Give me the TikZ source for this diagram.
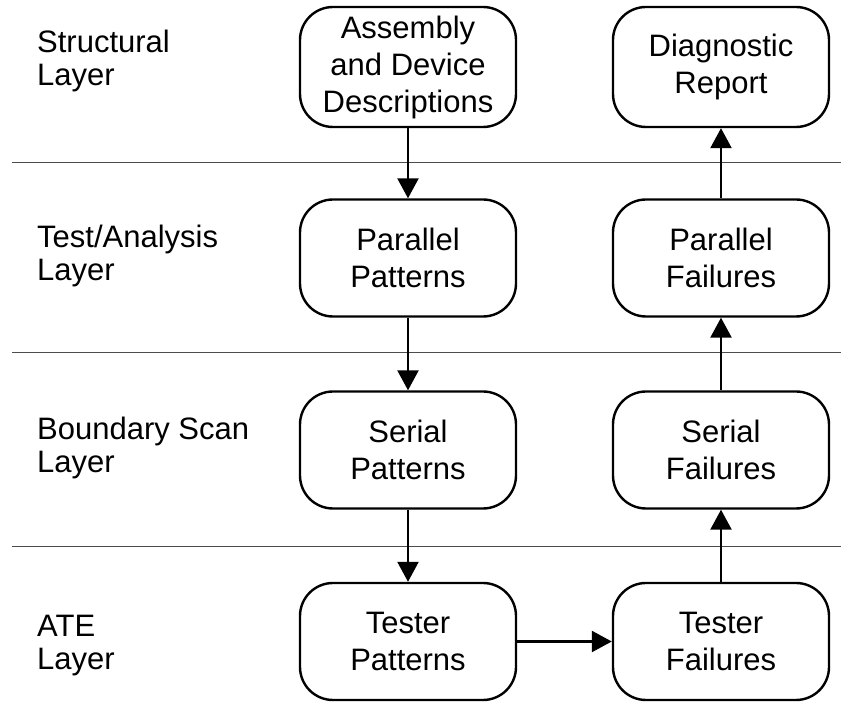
\documentclass[tikz,border=0pt]{standalone}
\usepackage{fontspec}
\setmainfont{Liberation Sans}
\usetikzlibrary{arrows.meta}
\begin{document}
\begin{tikzpicture}[x=1pt,y=1pt,
  stage/.style={draw, line width=2.4pt, rounded corners=33pt, minimum width=216pt,
    minimum height=117pt, align=center, inner sep=0pt,
    font=\fontsize{31}{37}\selectfont},
  layerlabel/.style={anchor=west, align=left, inner sep=0pt,
    font=\fontsize{31}{33}\selectfont},
  divider/.style={line width=1pt, black!70},
  flow/.style={line width=2.4pt, -{Triangle[length=20pt,width=21pt]}}]
\useasboundingbox (0,0) rectangle (841,704);

% layer dividers
\coordinate (d1l) at (12,541); \coordinate (d1r) at (841,541);
\coordinate (d2l) at (12,351); \coordinate (d2r) at (841,351);
\coordinate (d3l) at (12,157); \coordinate (d3r) at (841,157);
\draw[divider] (d1l) -- (d1r);
\draw[divider] (d2l) -- (d2r);
\draw[divider] (d3l) -- (d3r);

% layer names
\node[layerlabel] (l1) at (37,643) {Structural\\Layer};
\node[layerlabel] (l2) at (37,448) {Test/Analysis\\Layer};
\node[layerlabel] (l3) at (37,256) {Boundary Scan\\Layer};
\node[layerlabel] (l4) at (37,58) {ATE\\Layer};

% left column
\node[stage, minimum height=120pt] (asm) at (408,637) {Assembly\\and Device\\Descriptions};
\node[stage] (pp) at (408,446) {Parallel\\Patterns};
\node[stage] (sp) at (408,254) {Serial\\Patterns};
\node[stage] (tp) at (408,62.5) {Tester\\Patterns};

% right column
\node[stage, minimum height=120pt] (dr) at (721,637) {Diagnostic\\Report};
\node[stage] (pf) at (721,446) {Parallel\\Failures};
\node[stage] (sf) at (721,254) {Serial\\Failures};
\node[stage] (tf) at (721,62.5) {Tester\\Failures};

% data flow
\draw[flow] (asm) -- (pp);
\draw[flow] (pp) -- (sp);
\draw[flow] (sp) -- (tp);
\draw[flow] (tp) -- (tf);
\draw[flow] (tf) -- (sf);
\draw[flow] (sf) -- (pf);
\draw[flow] (pf) -- (dr);
\end{tikzpicture}
\end{document}
